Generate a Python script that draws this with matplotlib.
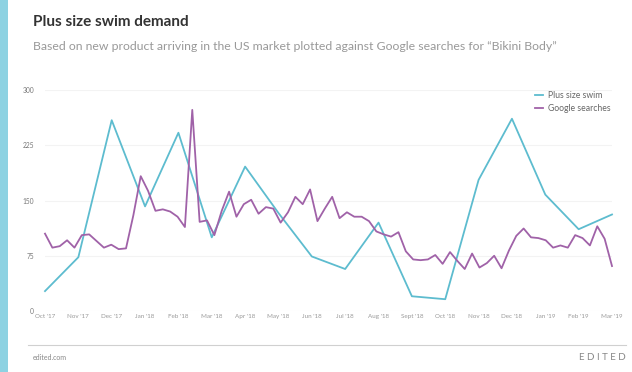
import matplotlib.pyplot as plt
import numpy as np

plt.rcParams["font.family"] = ["Lato", "DejaVu Sans"]

W, H = 632, 372

months = ["Oct '17", "Nov '17", "Dec '17", "Jan '18", "Feb '18", "Mar '18",
          "Apr '18", "May '18", "Jun '18", "Jul '18", "Aug '18", "Sept '18",
          "Oct '18", "Nov '18", "Dec '18", "Jan '19", "Feb '19", "Mar '19"]

# monthly new product count, plus size swim
plus_swim = [27, 73, 259, 142, 242, 100, 196, 133, 74, 57, 120, 20,
             16, 178, 261, 158, 111, 131]

# weekly Google searches for "Bikini Body"
google = [105, 86, 88, 96, 86, 103, 104, 95, 86, 90, 84, 85, 130, 183, 163,
          136, 138, 135, 128, 114, 273, 121, 123, 103, 136, 162, 128, 145,
          151, 132, 141, 139, 120, 134, 155, 145, 165, 122, 139, 155, 126,
          134, 128, 128, 122, 108, 104, 101, 107, 81, 70, 69, 70, 76, 64, 80,
          68, 57, 78, 59, 65, 75, 58, 82, 102, 112, 100, 99, 96, 86, 89, 86,
          103, 99, 89, 115, 98, 61]

yticks = [0, 75, 150, 225, 300]

teal = "#5dbccf"
purple = "#a062a8"

fig = plt.figure(figsize=(W / 100, H / 100), dpi=100)

# left accent bar
fig.add_artist(plt.Rectangle((0, 0), 8 / W, 1, transform=fig.transFigure,
                             color="#8dd2e2", lw=0))

# plot area in pixels
x0, x1, ytop, ybot = 45, 612, 90, 311
ax = fig.add_axes([x0 / W, (H - ybot) / H, (x1 - x0) / W, (ybot - ytop) / H])

xm = np.arange(len(plus_swim))
xg = np.arange(len(google)) * (len(months) - 1) / (len(google) - 1)

ax.plot(xm, plus_swim, color=teal, lw=1.3, label="Plus size swim",
        clip_on=False, zorder=3)
ax.plot(xg, google, color=purple, lw=1.3, label="Google searches",
        clip_on=False, zorder=3)

ax.set_xlim(0, len(months) - 1)
ax.set_ylim(0, 300)
ax.set_yticks(yticks)
ax.set_yticklabels([str(v) for v in yticks], fontsize=4.8, color="#777777")
ax.set_xticks(xm)
ax.set_xticklabels(months, fontsize=4.5, color="#999999")
ax.tick_params(length=0, pad=2)
ax.tick_params(axis="y", pad=8)
for lbl in ax.get_yticklabels():
    lbl.set_horizontalalignment("right")

ax.grid(axis="y", color="#f3f3f3", lw=0.8)
ax.set_axisbelow(True)
for s in ax.spines.values():
    s.set_visible(False)

ax.legend(loc="upper left", bbox_to_anchor=((527 - x0) / (x1 - x0), 1.03),
          frameon=False, fontsize=6.2, handlelength=0.9, handletextpad=0.6,
          labelspacing=0.45, labelcolor="#666666")

# titles
fig.text(33 / W, 1 - 22 / H, "Plus size swim demand", fontsize=11,
         fontweight="bold", color="#333333", va="center", ha="left")
fig.text(33 / W, 1 - 46 / H,
         "Based on new product arriving in the US market plotted against "
         "Google searches for \u201cBikini Body\u201d",
         fontsize=8.8, color="#999999", va="center", ha="left")

# footer
fig.add_artist(plt.Line2D([28 / W, 626 / W], [1 - 345 / H, 1 - 345 / H],
                          transform=fig.transFigure, color="#d0d0d0", lw=0.8))
fig.text(33 / W, 1 - 357 / H, "edited.com", fontsize=5, color="#888888",
         va="center", ha="left")
fig.text(626 / W, 1 - 357 / H, "E D I T E D", fontsize=7, color="#888888",
         va="center", ha="right")

fig.savefig("out.png", dpi=100)
